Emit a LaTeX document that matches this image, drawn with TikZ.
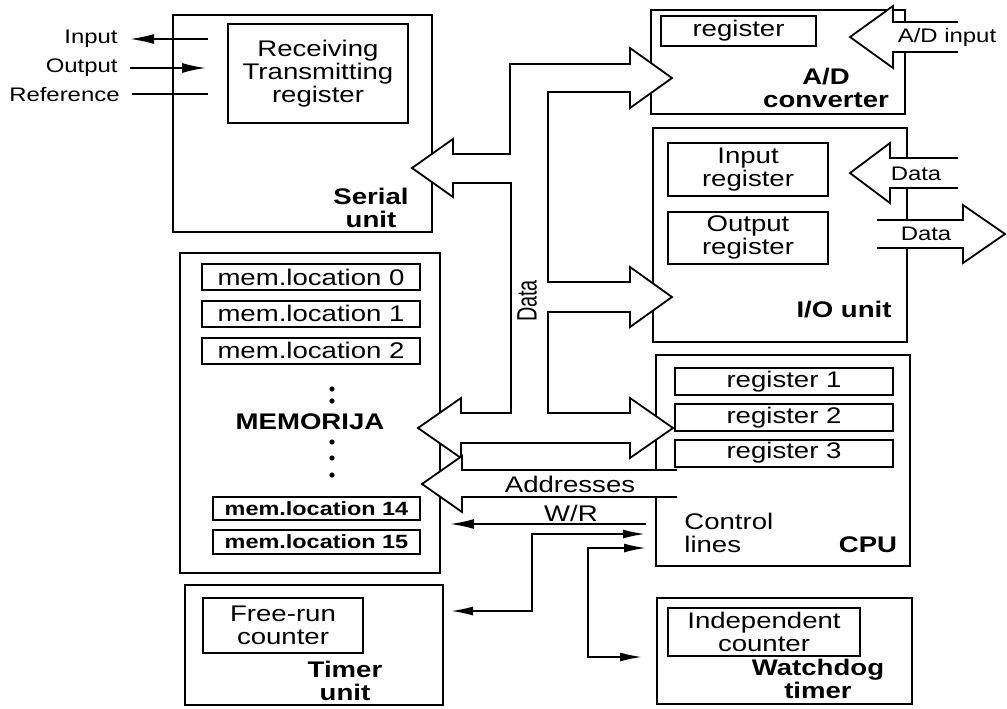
\documentclass[tikz,border=0pt]{standalone}
\usepackage{fontspec}
\setmainfont{Liberation Sans}[FakeStretch=1.22]
\usetikzlibrary{arrows.meta,fit,positioning}

\newcommand{\txtfont}{\fontsize{11.3}{11.5}\selectfont}
\newcommand{\smallfont}{\fontsize{9.8}{11}\selectfont}
\newcommand{\memfont}{\fontsize{9.6}{11}\selectfont\bfseries}

\tikzset{
  unitbox/.style={draw, line width=1.4pt, inner sep=0pt},
  regbox/.style={draw, line width=0.9pt, inner sep=0pt, align=center},
  unitname/.style={font=\txtfont\bfseries, align=center, inner sep=0pt},
  sidelbl/.style={font=\smallfont, inner xsep=6pt, inner ysep=0pt},
  bus/.style={draw, fill=white, line width=0.9pt},
  sig/.style={line width=0.9pt, -{Latex[length=12pt,width=5pt]}},
  bisig/.style={line width=0.9pt, {Latex[length=11pt,width=4.5pt]}-{Latex[length=11pt,width=4.5pt]}},
}

\begin{document}
\begin{tikzpicture}[x=0.5pt, y=-0.5pt, font=\txtfont]
\useasboundingbox (0,0) rectangle (1007,708);

% serial unit
\node[unitbox, fit={(173,15) (432,232)}] (serial) {};
\node[regbox, minimum width=90pt, minimum height=49.5pt] (rxtx) at (318,73.5) {Receiving\\Transmitting\\register};
\node[unitname] (serialname) at (371,208) {Serial\\unit};
\node[sidelbl, anchor=east] (inlbl) at (130,39) {Input};
\node[sidelbl, anchor=east] (outlbl) at (130,68) {Output};
\node[sidelbl, anchor=east] (reflbl) at (132,94) {Reference};
\coordinate (inend) at (208,39);
\coordinate (outend) at (206,68);
\coordinate (refend) at (208,94);
\draw[sig] (inend) -- (inlbl);
\draw[sig] (outlbl) -- (outend);
\draw[line width=0.9pt] (reflbl) -- (refend);

% A/D converter
\node[unitbox, fit={(651,10) (905,114)}] (adc) {};
\node[regbox, minimum width=77.5pt, minimum height=15pt] (adreg) at (738.5,31) {register};
\node[unitname] (adname) at (826,88) {A/D\\converter};

% I/O unit
\node[unitbox, fit={(653,128) (907,342)}] (io) {};
\node[regbox, minimum width=80pt, minimum height=26.5pt] (inreg) at (748,169.5) {Input\\register};
\node[regbox, minimum width=80pt, minimum height=26pt, below=7pt of inreg] (outreg) {Output\\register};
\node[unitname] (ioname) at (844,310) {I/O unit};

% CPU
\node[unitbox, fit={(656,355) (910,566)}] (cpu) {};
\node[regbox, minimum width=109pt, minimum height=13.5pt] (reg1) at (784,381.5) {register 1};
\node[regbox, minimum width=109pt, minimum height=13.5pt, below=3.5pt of reg1] (reg2) {register 2};
\node[regbox, minimum width=109pt, minimum height=13.5pt, below=3.5pt of reg2] (reg3) {register 3};
\node[align=left, anchor=west, inner sep=0pt] (ctl) at (684,533) {Control\\lines};
\node[unitname] (cpuname) at (868,545) {CPU};

% memory
\node[unitbox, fit={(180,253) (440,573)}] (mem) {};
\node[regbox, minimum width=109pt, minimum height=13pt] (m0) at (311,277) {mem.location 0};
\node[regbox, minimum width=109pt, minimum height=13pt, below=4.5pt of m0] (m1) {mem.location 1};
\node[regbox, minimum width=109pt, minimum height=13pt, below=4.5pt of m1] (m2) {mem.location 2};
\fill (332,389) circle (1.3pt) (332,401) circle (1.3pt);
\node[unitname] (memname) at (310,422) {MEMORIJA};
\foreach \yy in {442,458,475}
  \fill (332,\yy) circle (1.3pt);
\node[regbox, font=\memfont, minimum width=103.5pt, minimum height=11.5pt] (m14) at (316.5,508.5) {mem.location 14};
\node[regbox, font=\memfont, minimum width=103.5pt, minimum height=12pt, below=4pt of m14] (m15) {mem.location 15};

% timer unit
\node[unitbox, fit={(185,585) (443,705)}] (timer) {};
\node[regbox, minimum width=80pt, minimum height=27.5pt] (frc) at (283,625.5) {Free-run\\counter};
\node[unitname] (timername) at (345,681) {Timer\\unit};

% watchdog
\node[unitbox, fit={(657,598) (912,704)}] (wdog) {};
\node[regbox, minimum width=96pt, minimum height=24pt] (indc) at (764,632) {Independent\\counter};
\node[unitname] (wdname) at (818,679) {Watchdog\\timer};

% data bus
\path[bus] (412,168) -- (453,139) -- (453,154) -- (510,154) -- (510,64) -- (630,64)
  -- (630,48) -- (672,78) -- (630,108) -- (630,92) -- (548,92) -- (548,282)
  -- (630,282) -- (630,267) -- (672,297) -- (630,327) -- (630,312) -- (548,312)
  -- (548,413) -- (630,413) -- (630,398) -- (673,428) -- (630,458) -- (630,443)
  -- (461,443) -- (461,458) -- (418,428) -- (461,398) -- (461,413) -- (511,413)
  -- (511,183) -- (453,183) -- (453,197) -- cycle;
\node[rotate=90, inner sep=0pt] (datalbl) at (527,301) {\scalebox{0.72}[1.24]{Data}};

% address bus
\path[bus] (677,470) -- (462,470) -- (462,456) -- (422,484) -- (462,512) -- (462,497) -- (677,497);
\node (addrlbl) at (570,484) {Addresses};

% outside ports
\path[bus] (958,22) -- (893,22) -- (893,6) -- (850,37) -- (893,68) -- (893,52) -- (958,52);
\node[font=\smallfont] (adin) at (947,37) {A/D input};
\path[bus] (958,158) -- (890,158) -- (890,143) -- (850,173) -- (890,203) -- (890,188) -- (958,188);
\node[font=\smallfont] (datain) at (916,174) {Data};
\path[bus] (877,220) -- (963,220) -- (963,205) -- (1005,234) -- (963,263) -- (963,248) -- (877,248);
\node[font=\smallfont] (dataout) at (926,234) {Data};

% control lines
\coordinate (wrcpu) at (646,524);
\coordinate (wrmem) at (450,524);
\coordinate (tmrcpu) at (645,534);
\coordinate (tmrend) at (451,611);
\coordinate (wdcpu) at (646,548);
\coordinate (wdend) at (642,657);
\draw[sig] (wrcpu) -- (wrmem);
\node[anchor=base, inner sep=0pt] (wrlbl) at (571,521) {W/R};
\draw[bisig] (tmrend) -- ++(81,0) |- (tmrcpu);
\draw[bisig] (wdcpu) -- ++(-58,0) |- (wdend);
\end{tikzpicture}
\end{document}
